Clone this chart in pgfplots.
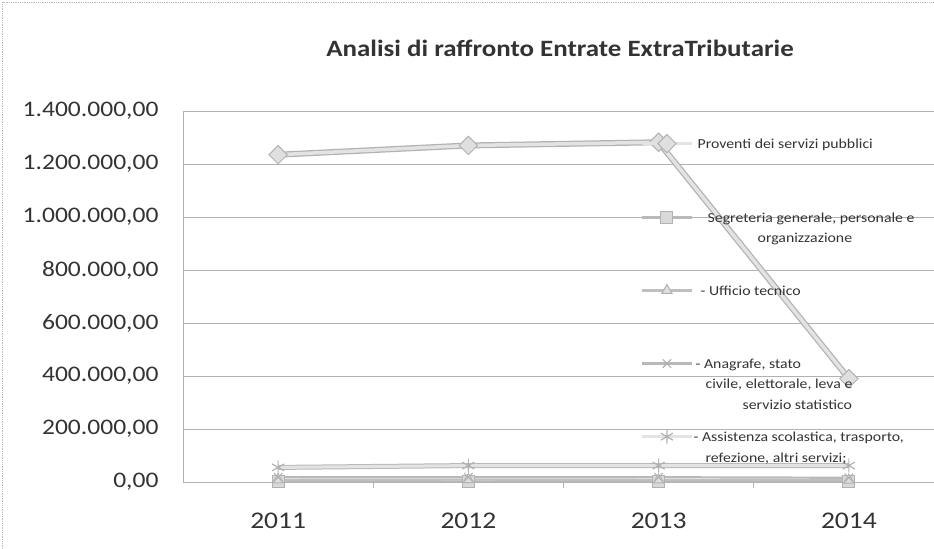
\documentclass[border=0pt]{standalone}
\usepackage{fontspec}
\setmainfont{Carlito}[FakeStretch=1.15]
\usepackage{pgfplots}
\pgfplotsset{compat=1.18}
\newcommand\LE[1]{\parbox[t]{260bp}{\raggedright\strut #1}}
\begin{document}
\begin{tikzpicture}
\useasboundingbox (0,0) rectangle (934bp,549bp);
\draw[gray!55, line width=0.8bp, densely dotted] (2.5bp,0) -- (2.5bp,546.5bp) -- (934bp,546.5bp);
\node[font=\bfseries\fontsize{23.5}{28}\selectfont, text=black!80] at (560bp,501bp) {Analisi di raffronto Entrate ExtraTributarie};
\begin{axis}[
  at={(183bp,67bp)}, anchor=south west,
  scale only axis, width=761bp, height=371bp,
  xmin=0.5, xmax=4.5, ymin=0, ymax=1400000,
  xtick={1,2,3,4}, xticklabels={2011,2012,2013,2014},
  extra x ticks={1.5,2.5,3.5}, extra x tick labels={},
  extra x tick style={major tick length=6bp, tick align=outside, grid=none},
  ytick={0,200000,...,1400000},
  scaled y ticks=false,
  /pgf/number format/assume math mode=true,
  /pgf/number format/fixed,
  /pgf/number format/fixed zerofill,
  /pgf/number format/precision=2,
  /pgf/number format/use comma,
  /pgf/number format/1000 sep={.},
  tick label style={text=black!80},
  yticklabel style={font=\fontsize{22.3}{26}\selectfont, xshift=-21bp},
  xticklabel style={font=\fontsize{24}{28}\selectfont, yshift=-27bp},
  major tick length=0pt,
  tick style={gray!60, line width=0.9bp},
  ymajorgrids, major grid style={gray!60, line width=0.9bp},
  axis x line*=bottom, axis y line*=left,
  axis line style={gray!60, line width=0.9bp, -},
  legend style={at={(0.6005,0.943)}, anchor=north west, draw=none, fill=none,
    inner sep=0pt, row sep=53.3bp, column sep=0pt,
    cells={anchor=base west, inner sep=0pt},
    font=\fontsize{13.8}{20.5}\selectfont, text=black!80},
  legend image code/.code={\draw[mark repeat=2,mark phase=2] plot coordinates {(0bp,5bp)(25bp,5bp)(50bp,5bp)};},
]
% dark edges of the wide bands
\addplot[gray!60, line width=6bp, forget plot]
  coordinates {(1,1235000)(2,1270000)(3,1282000)(4,390000)};
\addplot[gray!55, line width=5bp, forget plot]
  coordinates {(1,55000)(2,62000)(3,62000)(4,62000)};
% series
\addplot[gray!22, line width=3.5bp, mark=square*, mark size=6.5bp,
  mark options={rotate=45, fill=gray!25, draw=gray!60, line width=1bp}]
  coordinates {(1,1235000)(2,1270000)(3,1282000)(4,390000)};
\addlegendentry{\LE{\hspace*{2bp}Proventi dei servizi pubblici}}
\addplot[gray!55, line width=2.2bp, mark=square*, mark size=6bp,
  mark options={fill=gray!30, draw=gray!60, line width=1bp}]
  coordinates {(1,3000)(2,2000)(3,2000)(4,2000)};
\addlegendentry{\LE{\hspace*{12bp}Segreteria generale, personale e\\\hspace*{62bp}organizzazione}}
\addplot[gray!50, line width=2.2bp, mark=triangle*, mark size=6bp,
  mark options={fill=gray!25, draw=gray!60, line width=1bp}]
  coordinates {(1,8000)(2,9000)(3,8000)(4,7000)};
\addlegendentry{\LE{\hspace*{5bp}- Ufficio tecnico}}
\addplot[gray!55, line width=2.2bp, mark=x, mark size=6bp,
  mark options={draw=gray!60, line width=1.2bp}]
  coordinates {(1,18000)(2,18000)(3,18000)(4,16000)};
\addlegendentry{\LE{- Anagrafe, stato\\\hspace*{10bp}civile, elettorale, leva e\\\hspace*{47bp}servizio statistico}}
\addplot[gray!22, line width=3bp, mark=asterisk, mark size=7bp,
  mark options={draw=gray!60, line width=1.2bp}]
  coordinates {(1,55000)(2,62000)(3,62000)(4,62000)};
\addlegendentry{\LE{\hspace*{-2bp}- Assistenza scolastica, trasporto,\\\hspace*{10bp}refezione, altri servizi;}}
\end{axis}
\end{tikzpicture}
\end{document}
